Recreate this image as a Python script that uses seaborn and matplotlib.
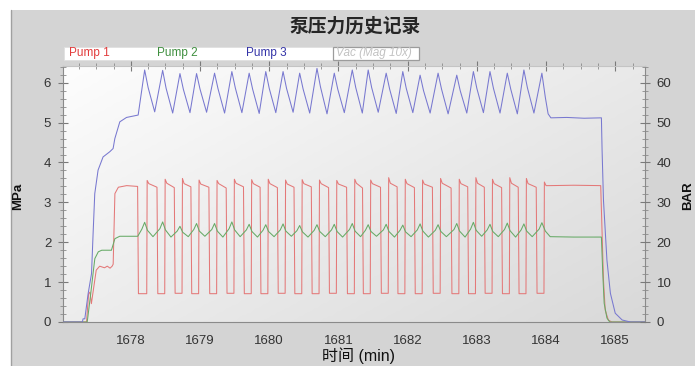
import numpy as np
import pandas as pd
import matplotlib
matplotlib.use("Agg")
import matplotlib.pyplot as plt
import seaborn as sns
from matplotlib.patches import Rectangle
from matplotlib.lines import Line2D
from matplotlib.ticker import MultipleLocator
from matplotlib.colors import LinearSegmentedColormap

# ---------------- data (time in min, pressure in MPa) ----------------
# Pump 3: start-up ramp, pulsation peaks / knees / troughs, shut-down tail
p3_ramp_t = [1677.02, 1677.30, 1677.31, 1677.335, 1677.383, 1677.432, 1677.455, 1677.479,
             1677.527, 1677.599, 1677.696, 1677.744, 1677.769, 1677.841, 1677.938, 1678.106]
p3_ramp_v = [0.0, 0.0, 0.08, 0.08, 0.71, 1.21, 2.22, 3.22,
             3.81, 4.14, 4.27, 4.35, 4.60, 5.02, 5.13, 5.19]
p3_peak_t = [1678.20, 1678.46, 1678.71, 1678.95, 1679.21, 1679.46, 1679.71, 1679.95,
             1680.20, 1680.44, 1680.69, 1680.94, 1681.20, 1681.43, 1681.69, 1681.93,
             1682.18, 1682.44, 1682.71, 1682.95, 1683.19, 1683.44, 1683.68, 1683.94]
p3_peak_v = [6.32, 6.31, 6.23, 6.23, 6.24, 6.28, 6.24, 6.28, 6.28, 6.24, 6.36, 6.24,
             6.32, 6.32, 6.24, 6.28, 6.19, 6.24, 6.19, 6.28, 6.28, 6.24, 6.32, 6.24]
p3_knee_t = [1678.25, 1678.51, 1678.76, 1679.00, 1679.26, 1679.51, 1679.76, 1680.00,
             1680.25, 1680.49, 1680.74, 1680.99, 1681.25, 1681.48, 1681.74, 1681.98,
             1682.23, 1682.49, 1682.76, 1683.00, 1683.24, 1683.49, 1683.73]
p3_knee_v = [5.88, 5.86, 5.83, 5.84, 5.85, 5.87, 5.84, 5.86, 5.86, 5.84, 5.90, 5.84,
             5.88, 5.88, 5.84, 5.86, 5.80, 5.84, 5.80, 5.86, 5.86, 5.84, 5.88]
p3_trough_t = [1678.345, 1678.605, 1678.855, 1679.095, 1679.355, 1679.605, 1679.855, 1680.095,
               1680.345, 1680.585, 1680.835, 1681.085, 1681.345, 1681.575, 1681.835, 1682.075,
               1682.325, 1682.585, 1682.855, 1683.095, 1683.335, 1683.585, 1683.825]
p3_trough_v = [5.27, 5.24, 5.25, 5.26, 5.24, 5.25, 5.23, 5.25, 5.26, 5.24, 5.22, 5.25,
               5.24, 5.26, 5.23, 5.25, 5.24, 5.22, 5.24, 5.25, 5.24, 5.22, 5.24]
p3_tail_t = [1683.99, 1684.03, 1684.07, 1684.30, 1684.55, 1684.80, 1684.81, 1684.83,
             1684.88, 1684.93, 1685.00, 1685.10, 1685.22, 1685.43]
p3_tail_v = [5.63, 5.22, 5.12, 5.13, 5.11, 5.12, 4.30, 3.05, 1.55, 0.72, 0.22, 0.05, 0.0, 0.0]

# Pump 1: ramp, then square-wave strokes (fall / rise events), then tail
p1_ramp_t = [1677.02, 1677.36, 1677.39, 1677.41, 1677.43, 1677.50, 1677.55, 1677.62,
             1677.66, 1677.70, 1677.73, 1677.745, 1677.77, 1677.82, 1677.94]
p1_ramp_v = [0.0, 0.0, 0.71, 0.75, 0.46, 1.30, 1.40, 1.36, 1.40, 1.35, 1.40, 1.45,
             3.22, 3.38, 3.42]
p1_fall_t = [1678.11, 1678.39, 1678.64, 1678.88, 1679.14, 1679.39, 1679.64, 1679.88,
             1680.13, 1680.37, 1680.62, 1680.87, 1681.13, 1681.36, 1681.62, 1681.86,
             1682.11, 1682.37, 1682.64, 1682.88, 1683.12, 1683.37, 1683.61, 1683.87]
p1_end_v = [3.40, 3.38, 3.37, 3.39, 3.38, 3.36, 3.39, 3.38, 3.37, 3.38, 3.39, 3.37,
            3.38, 3.36, 3.38, 3.39, 3.37, 3.38, 3.36, 3.39, 3.38, 3.37, 3.38, 3.38]
p1_low_v = [0.71, 0.71, 0.72, 0.71, 0.71, 0.72, 0.71, 0.71, 0.72, 0.71, 0.71, 0.72,
            0.71, 0.71, 0.72, 0.71, 0.71, 0.72, 0.71, 0.71, 0.72, 0.71, 0.71, 0.72]
p1_rise_t = [1678.23, 1678.49, 1678.74, 1678.98, 1679.24, 1679.49, 1679.74, 1679.98,
             1680.23, 1680.47, 1680.72, 1680.97, 1681.23, 1681.46, 1681.72, 1681.96,
             1682.21, 1682.47, 1682.74, 1682.98, 1683.22, 1683.47, 1683.71, 1683.97]
p1_spike_v = [3.55, 3.58, 3.60, 3.56, 3.55, 3.58, 3.57, 3.58, 3.56, 3.57, 3.56, 3.55,
              3.58, 3.56, 3.62, 3.58, 3.56, 3.60, 3.58, 3.62, 3.58, 3.62, 3.60, 3.51]
p1_top_v = [3.47, 3.48, 3.47, 3.46, 3.47, 3.48, 3.47, 3.47, 3.46, 3.47, 3.47, 3.46,
            3.48, 3.47, 3.48, 3.47, 3.46, 3.48, 3.47, 3.48, 3.47, 3.48, 3.47, 3.42]
p1_tail_t = [1684.05, 1684.40, 1684.79, 1684.83, 1684.855, 1684.90, 1684.95, 1685.43]
p1_tail_v = [3.42, 3.43, 3.42, 1.05, 0.30, 0.05, 0.0, 0.0]

# Pump 2: ramp, pulsation (peaks share Pump 3 timing), tail
p2_ramp_t = [1677.02, 1677.37, 1677.42, 1677.46, 1677.48, 1677.53, 1677.58, 1677.72,
             1677.77, 1677.84, 1678.10]
p2_ramp_v = [0.0, 0.0, 0.70, 1.30, 1.59, 1.76, 1.80, 1.80, 2.09, 2.15, 2.15]
p2_shoulder_t = [1678.16, 1678.42, 1678.67, 1678.91, 1679.17, 1679.42, 1679.67, 1679.91,
                 1680.16, 1680.40, 1680.65, 1680.90, 1681.16, 1681.39, 1681.65, 1681.89,
                 1682.14, 1682.40, 1682.67, 1682.91, 1683.15, 1683.40, 1683.64, 1683.90]
p2_shoulder_v = [2.33, 2.34, 2.28, 2.32, 2.32, 2.34, 2.31, 2.30, 2.31, 2.29, 2.30, 2.31,
                 2.32, 2.30, 2.31, 2.30, 2.31, 2.30, 2.32, 2.33, 2.31, 2.32, 2.31, 2.33]
p2_peak_v = [2.50, 2.51, 2.40, 2.47, 2.47, 2.51, 2.45, 2.44, 2.46, 2.42, 2.44, 2.45,
             2.47, 2.44, 2.45, 2.43, 2.46, 2.44, 2.47, 2.50, 2.45, 2.48, 2.46, 2.49]
p2_knee_t = [1678.24, 1678.50, 1678.75, 1678.99, 1679.25, 1679.50, 1679.75, 1679.99,
             1680.24, 1680.48, 1680.73, 1680.98, 1681.24, 1681.47, 1681.73, 1681.97,
             1682.22, 1682.48, 1682.75, 1682.99, 1683.23, 1683.48, 1683.72]
p2_knee_v = [2.30, 2.31, 2.25, 2.28, 2.28, 2.31, 2.27, 2.27, 2.28, 2.26, 2.27, 2.27,
             2.28, 2.27, 2.27, 2.26, 2.28, 2.27, 2.28, 2.30, 2.27, 2.29, 2.28]
p2_trough_t = [1678.32, 1678.58, 1678.83, 1679.07, 1679.33, 1679.58, 1679.83, 1680.07,
               1680.32, 1680.56, 1680.81, 1681.06, 1681.32, 1681.55, 1681.81, 1682.05,
               1682.30, 1682.56, 1682.83, 1683.07, 1683.31, 1683.56, 1683.80]
p2_trough_v = [2.14, 2.13, 2.14, 2.15, 2.13, 2.14, 2.13, 2.14, 2.15, 2.13, 2.14, 2.13,
               2.14, 2.15, 2.13, 2.14, 2.13, 2.14, 2.13, 2.15, 2.14, 2.13, 2.14]
p2_tail_t = [1683.99, 1684.06, 1684.40, 1684.80, 1684.82, 1684.84, 1684.88, 1684.92, 1685.43]
p2_tail_v = [2.28, 2.14, 2.13, 2.13, 1.22, 0.47, 0.10, 0.0, 0.0]

series_names = ["Pump 1", "Pump 2", "Pump 3"]
line_colors = ["#e47878", "#66aa66", "#7878d0"]
legend_colors = ["#e23c3c", "#3f8f3f", "#3434a8"]


def ordered(pairs):
    t = np.concatenate([np.asarray(a, float) for a, _ in pairs])
    v = np.concatenate([np.asarray(b, float) for _, b in pairs])
    idx = np.argsort(t, kind="stable")
    return t[idx], v[idx]


def pump1_vertices():
    t, v = list(p1_ramp_t), list(p1_ramp_v)
    for i in range(len(p1_fall_t)):
        t += [p1_fall_t[i] - 0.012, p1_fall_t[i], p1_rise_t[i],
              p1_rise_t[i] + 0.006, p1_rise_t[i] + 0.03]
        v += [p1_end_v[i], p1_low_v[i], p1_low_v[i], p1_spike_v[i], p1_top_v[i]]
    return ordered([(t, v), (p1_tail_t, p1_tail_v)])


t1, v1 = pump1_vertices()
t2, v2 = ordered([(p2_ramp_t, p2_ramp_v), (p2_shoulder_t, p2_shoulder_v),
                  (p3_peak_t, p2_peak_v), (p2_knee_t, p2_knee_v),
                  (p2_trough_t, p2_trough_v), (p2_tail_t, p2_tail_v)])
t3, v3 = ordered([(p3_ramp_t, p3_ramp_v), (p3_peak_t, p3_peak_v),
                  (p3_knee_t, p3_knee_v), (p3_trough_t, p3_trough_v),
                  (p3_tail_t, p3_tail_v)])

frames = [pd.DataFrame({"t": t, "MPa": v}) for t, v in [(t1, v1), (t2, v2), (t3, v3)]]

# ---------------- figure ----------------
sns.set_style("white")
plt.rcParams["font.family"] = ["Liberation Sans", "Noto Sans CJK SC", "DejaVu Sans"]

W, H = 695, 366
fig = plt.figure(figsize=(W / 100, H / 100), dpi=100, facecolor="#d4d4d4")
fig.patches.append(Rectangle((0, 1 - 10 / H), 1, 10 / H, transform=fig.transFigure,
                             facecolor="white", edgecolor="none", zorder=0))
fig.patches.append(Rectangle((0, 0), 10.5 / W, 1, transform=fig.transFigure,
                             facecolor="white", edgecolor="none", zorder=0))
fig.add_artist(Line2D([11 / W, 11 / W], [0, 1 - 10 / H], transform=fig.transFigure,
                      color="#a0a0a0", lw=1.0))

ax = fig.add_axes([63 / W, 44 / H, 582 / W, 256 / H])
xlim = (1677.02, 1685.43)
ylim = (0, 6.42)

# soft diagonal shading of the plotting area
gx, gy = np.meshgrid(np.linspace(0, 1, 200), np.linspace(0, 1, 100))
shade = 0.55 * gx + 0.45 * gy
cmap = LinearSegmentedColormap.from_list("panel", ["#fdfdfd", "#d9d9d9"])
ax.imshow(shade, extent=[xlim[0], xlim[1], ylim[0], ylim[1]], origin="upper",
          aspect="auto", cmap=cmap, zorder=0, interpolation="bilinear")

for df, c in zip(frames, line_colors):
    sns.lineplot(data=df, x="t", y="MPa", ax=ax, color=c, linewidth=0.75,
                 estimator=None, sort=False, legend=False, zorder=3)

ax.set_xlim(*xlim)
ax.set_ylim(*ylim)
ax.set_xlabel("")
ax.set_ylabel("")
ax.xaxis.set_major_locator(MultipleLocator(1))
ax.xaxis.set_minor_locator(MultipleLocator(0.25))
ax.yaxis.set_major_locator(MultipleLocator(1))
ax.yaxis.set_minor_locator(MultipleLocator(0.2))
ax.tick_params(axis="both", which="major", direction="inout", length=7, width=0.8,
               color="#7a7a7a", labelsize=9.5, labelcolor="#333333", pad=5)
ax.tick_params(axis="both", which="minor", direction="inout", length=4, width=0.6,
               color="#8a8a8a")
ax.tick_params(axis="x", which="both", top=True)
ax.tick_params(axis="x", which="major", pad=6)
for side, col in [("left", "#8a8a8a"), ("bottom", "#8a8a8a"), ("right", "#8a8a8a"),
                  ("top", "#c4c4c4")]:
    ax.spines[side].set_color(col)
    ax.spines[side].set_linewidth(0.8)

ax2 = ax.twinx()
ax2.set_ylim(ylim[0] * 10, ylim[1] * 10)
ax2.yaxis.set_major_locator(MultipleLocator(10))
ax2.yaxis.set_minor_locator(MultipleLocator(2))
ax2.tick_params(axis="y", which="major", direction="inout", length=7, width=0.8,
                color="#7a7a7a", labelsize=9.5, labelcolor="#333333", pad=5)
ax2.tick_params(axis="y", which="minor", direction="inout", length=4, width=0.6,
                color="#8a8a8a")
for s in ax2.spines.values():
    s.set_visible(False)

# title, axis names
fig.text(355 / W, 1 - 26 / H, "泵压力历史记录", ha="center", va="center",
         fontsize=13.5, fontweight="bold", family=["Noto Sans CJK SC", "DejaVu Sans"])
fig.text(18 / W, 1 - 196 / H, "MPa", rotation=90, ha="center", va="center",
         fontsize=9.5, fontweight="bold", color="#111111")
fig.text(688 / W, 1 - 196 / H, "BAR", rotation=90, ha="center", va="center",
         fontsize=9.5, fontweight="bold", color="#111111")
fig.text(358 / W, 1 - 356 / H, "时间 (min)", ha="center", va="center",
         fontsize=11.5, color="#111111")

# legend strip
fig.patches.append(Rectangle((63.5 / W, 1 - 59.5 / H), (333 - 63.5) / W, 12.5 / H,
                             transform=fig.transFigure, facecolor="white",
                             edgecolor="#e0e0e0", lw=0.6, zorder=2))
fig.patches.append(Rectangle((333 / W, 1 - 59.5 / H), (419 - 333) / W, 12.5 / H,
                             transform=fig.transFigure, facecolor="white",
                             edgecolor="#9c9c9c", lw=0.9, zorder=2))
for name, x, c in zip(series_names, [69, 157, 246], legend_colors):
    fig.text(x / W, 1 - 53 / H, name, color=c, fontsize=8.5, va="center", ha="left",
             zorder=3)
fig.text(336 / W, 1 - 53 / H, "Vac (Mag 10x)", color="#c2c2c2", fontsize=8.5,
         style="italic", va="center", ha="left", zorder=3)

fig.savefig("out.png", dpi=100, facecolor=fig.get_facecolor())
